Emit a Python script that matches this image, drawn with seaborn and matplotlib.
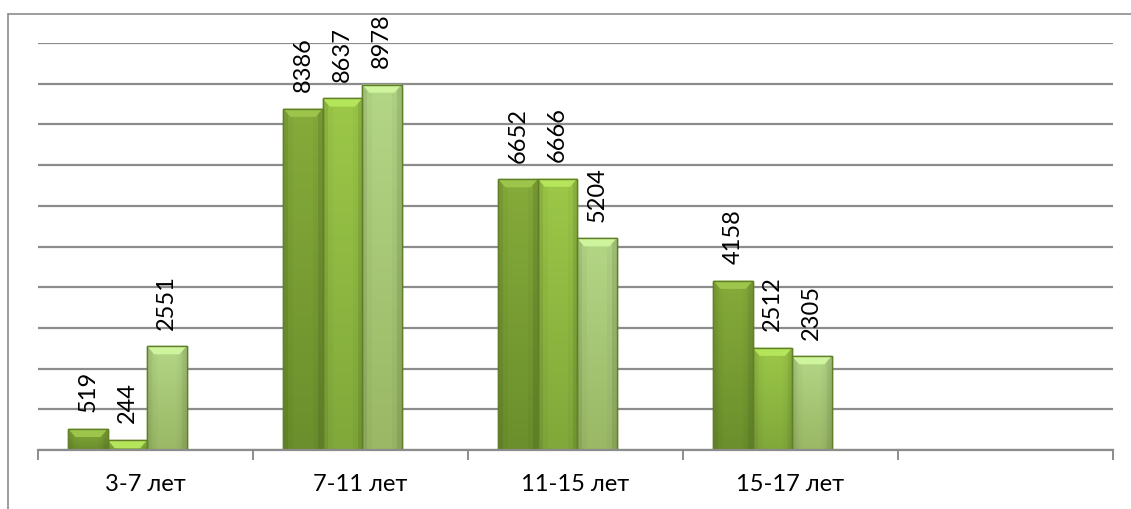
import numpy as np
import pandas as pd
import matplotlib
matplotlib.use("Agg")
import matplotlib.pyplot as plt
import seaborn as sns
from matplotlib.colors import to_rgb
from matplotlib.patches import Polygon, Rectangle

# data
categories = ["3-7 лет", "7-11 лет", "11-15 лет", "15-17 лет"]
series = ["Ряд 1", "Ряд 2", "Ряд 3"]
s1 = [519, 8386, 6652, 4158]
s2 = [244, 8637, 6666, 2512]
s3 = [2551, 8978, 5204, 2305]

top_cols = ["#86ab3a", "#9cc848", "#b3d686"]
bot_cols = ["#6b8f2c", "#80a83a", "#9ab865"]

df = pd.DataFrame({
    "cat": categories * 3,
    "series": [series[0]] * 4 + [series[1]] * 4 + [series[2]] * 4,
    "value": s1 + s2 + s3,
})

sns.set_theme(style="white")
plt.rcParams["font.family"] = ["Lato", "DejaVu Sans"]

fig = plt.figure(figsize=(11.31, 5.09), dpi=100)
ax = fig.add_axes([38 / 1131, 59 / 509, (1113 - 38) / 1131, (450 - 43) / 509])

sns.barplot(data=df, x="cat", y="value", hue="series", order=categories,
            palette=bot_cols, width=0.55, ax=ax, legend=False, errorbar=None,
            saturation=1)

ax.set_xlim(-0.5, 4.5)
ax.set_ylim(0, 10000)

# 3d chart offset: groups sit a bit left of the slot centre
shift = -0.084
bevel_h = 200
for k, cont in enumerate(ax.containers):
    c_top = np.array(to_rgb(top_cols[k]))
    c_bot = np.array(to_rgb(bot_cols[k]))
    for p in cont:
        p.set_x(p.get_x() + shift)
        p.set_edgecolor("#5a7a22")
        p.set_linewidth(1.0)
        x0, w, h = p.get_x(), p.get_width(), p.get_height()
        t = np.linspace(1, 0, 64)[:, None, None]
        grad = c_bot + (c_top - c_bot) * t
        grad = np.repeat(grad, 8, axis=1)
        # darker sides
        side = np.array([0.9, 0.97, 1, 1, 1, 1, 0.97, 0.88])[None, :, None]
        grad = np.clip(grad * side, 0, 1)
        im = ax.imshow(grad, extent=[x0, x0 + w, 0, h], aspect="auto",
                       zorder=p.get_zorder() + 0.1, origin="upper")
        im.set_clip_path(p)
        bh = min(bevel_h, h)
        inset = w * 0.18
        light = np.clip(c_top * 1.08 + 0.05, 0, 1)
        bev = Polygon([[x0, h], [x0 + w, h], [x0 + w - inset, h - bh],
                       [x0 + inset, h - bh]], closed=True, facecolor=light,
                      edgecolor="none", zorder=p.get_zorder() + 0.2)
        ax.add_patch(bev)
        ax.add_patch(Rectangle((x0, 0), w, h, fill=False, edgecolor="#5f8026",
                               linewidth=1.0, zorder=p.get_zorder() + 0.3))
    ax.bar_label(cont, labels=[str(int(v)) for v in cont.datavalues],
                 rotation=90, padding=12, fontsize=17, color="black")

# gridlines
ax.set_yticks(np.arange(0, 10001, 1000))
ax.yaxis.grid(True, color="#8c8c8c", linewidth=1.6)
ax.set_axisbelow(True)
ax.tick_params(axis="y", left=False, labelleft=False)

ax.set_xticks(range(4))
ax.set_xticklabels(categories, fontsize=17)
ax.set_xticks(np.arange(-0.5, 4.51, 1), minor=True)
ax.tick_params(axis="x", which="major", length=0, pad=17, colors="black")
ax.tick_params(axis="x", which="minor", length=7, width=1.4, color="#8c8c8c",
               direction="out", bottom=True)
ax.set_xlabel("")
ax.set_ylabel("")

for s in ["top", "right", "left"]:
    ax.spines[s].set_visible(False)
ax.spines["bottom"].set_color("#8c8c8c")
ax.spines["bottom"].set_linewidth(1.6)

# outer chart frame (only top and left visible)
fig.add_artist(plt.Line2D([8 / 1131, 8 / 1131], [0, 1 - 14 / 509],
                          color="#8c8c8c", linewidth=1.2, transform=fig.transFigure))
fig.add_artist(plt.Line2D([8 / 1131, 1], [1 - 14 / 509, 1 - 14 / 509],
                          color="#8c8c8c", linewidth=1.2, transform=fig.transFigure))

fig.savefig("out.png", dpi=100)
